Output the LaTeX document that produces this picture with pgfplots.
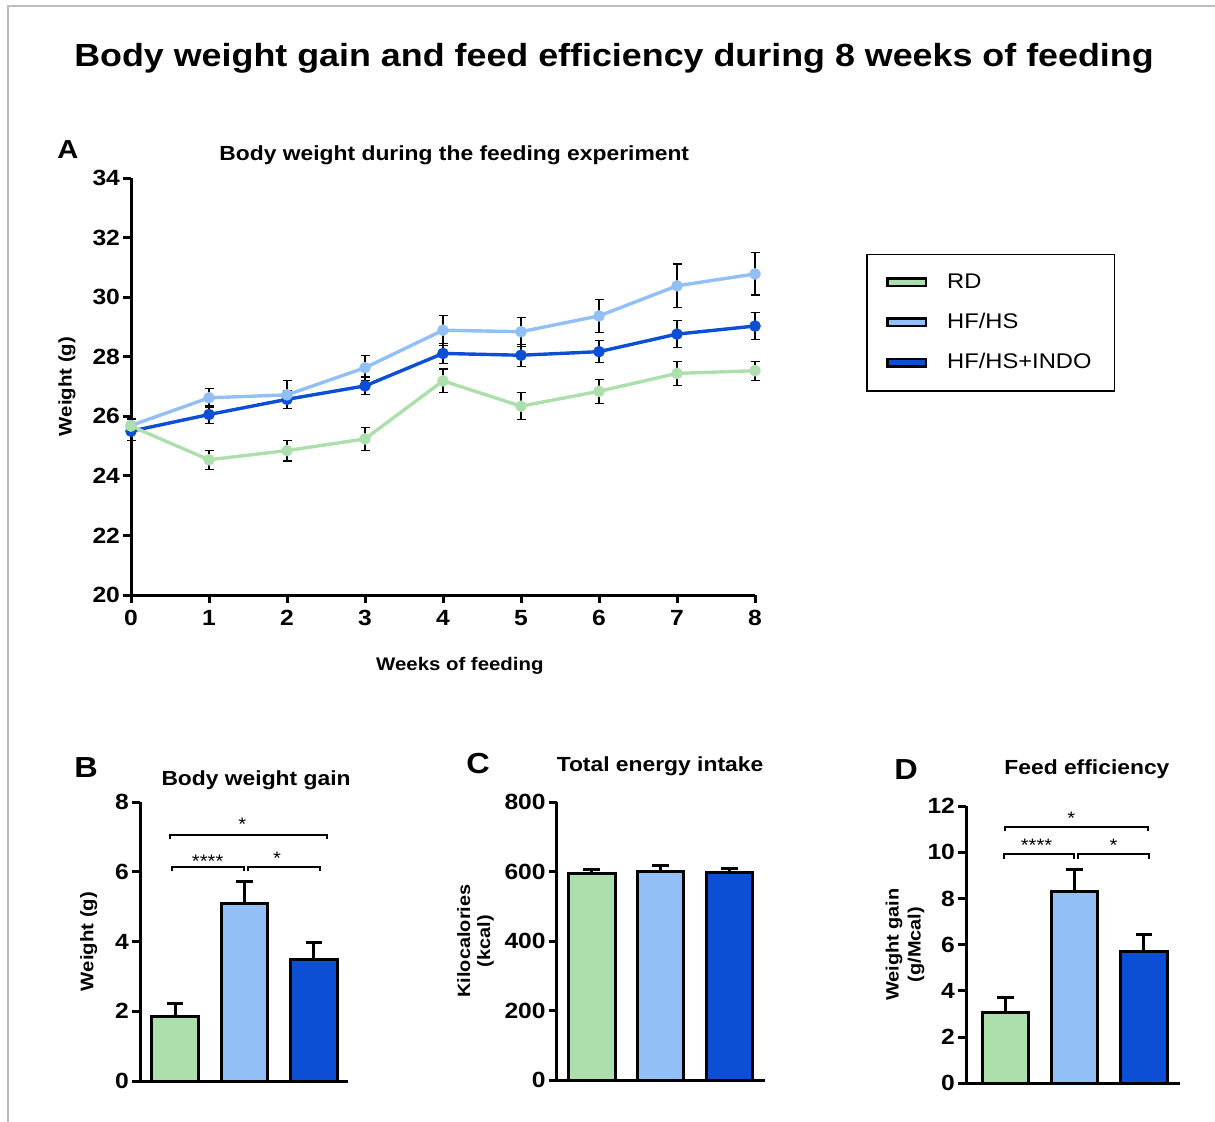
\documentclass[border=0pt]{standalone}
\usepackage{fontspec}
\setmainfont{Liberation Sans}[FakeStretch=1.12]
\usepackage{pgfplots}
\usepackage{pgfplotstable}
\pgfplotsset{compat=1.18}

\definecolor{rdgreen}{RGB}{173,223,173}
\definecolor{hflight}{RGB}{147,191,247}
\definecolor{indoblue}{RGB}{12,78,212}
\definecolor{framegray}{RGB}{190,190,190}

\newcommand{\fs}[2]{\fontsize{#1}{#2}\selectfont}

% weekly body weight: week, mean, SEM
\pgfplotstableread{
w  m      e
0  25.67  0.22
1  24.54  0.32
2  24.85  0.35
3  25.24  0.38
4  27.19  0.40
5  26.34  0.45
6  26.84  0.40
7  27.44  0.40
8  27.53  0.32
}\rdtab
\pgfplotstableread{
w  m      e
0  25.69  0.22
1  26.62  0.31
2  26.72  0.47
3  27.63  0.42
4  28.89  0.50
5  28.84  0.49
6  29.37  0.55
7  30.38  0.73
8  30.78  0.71
}\hftab
\pgfplotstableread{
w  m      e
0  25.50  0.30
1  26.06  0.29
2  26.57  0.30
3  27.02  0.30
4  28.11  0.34
5  28.05  0.37
6  28.17  0.37
7  28.76  0.45
8  29.03  0.45
}\indotab

\pgfplotsset{
  panel/.style={
    scale only axis, clip=false,
    axis x line*=bottom, axis y line*=left,
    axis line style={line width=1.5pt, black},
    tick style={line width=1.5pt, black},
    major tick length=4pt, tick align=outside,
    /pgf/number format/assume math mode=true,
    tick label style={font=\bfseries\fs{11}{13}},
    yticklabel style={xshift=2pt},
    % the default title style shifts up by 6pt; take that back
    title style={font=\bfseries\fs{10.2}{12}, inner sep=0pt, anchor=base, yshift=-6pt},
    label style={font=\bfseries\fs{9.1}{11}, inner sep=0pt},
  },
  barpanel/.style={
    panel, xtick=\empty, ymin=0,
  },
  gbar/.style={
    ybar, bar width=23.25pt, bar shift=0pt, draw=black, line width=1.5pt, fill=#1,
    error bars/y dir=plus, error bars/y explicit,
    error bars/error bar style={line width=1.5pt, black},
    error bars/error mark options={rotate=90, mark size=4.2pt, line width=1.5pt, black},
  },
  wline/.style={
    #1, line width=1.7pt, mark=*, mark size=2pt, mark options={fill=#1, draw=#1},
    error bars/y dir=both, error bars/y explicit,
    error bars/error bar style={line width=0.6pt, black},
    error bars/error mark options={rotate=90, mark size=2.25pt, line width=0.6pt, black},
  },
  boxlegend/.style={
    legend image code/.code={\draw[##1, draw=black, line width=1.2pt] (0.6pt,-1.9pt) rectangle (19.9pt,1.9pt);}
  },
}

\begin{document}
\begin{tikzpicture}
\path[use as bounding box] (0,0) rectangle (607.5pt,-560.5pt);
\draw[framegray, line width=1pt] (4pt,-562pt) -- (4pt,-3pt) -- (609pt,-3pt);

\node[anchor=base, font=\bfseries\fs{16}{19}] at (307pt,-33pt)
  {Body weight gain and feed efficiency during 8 weeks of feeding};

% panel letters
\node[anchor=base, font=\bfseries\fs{13}{15}] at (34pt,-79pt) {A};
\node[anchor=base, font=\bfseries\fs{14.5}{17}] at (43pt,-388.5pt) {B};
\node[anchor=base, font=\bfseries\fs{14.5}{17}] at (239pt,-386.5pt) {C};
\node[anchor=base, font=\bfseries\fs{14.5}{17}] at (453pt,-389.5pt) {D};

% ---- A: body weight over time
\begin{axis}[panel,
  at={(65.5pt,-297.5pt)}, anchor=south west,
  width=312pt, height=208.5pt,
  xmin=0, xmax=8, ymin=20, ymax=34,
  xtick={0,...,8}, ytick={20,22,...,34},
  title={Body weight during the feeding experiment},
  title style={at={(axis description cs:0.518,1.041)}},
  xlabel={Weeks of feeding},
  xlabel style={at={(axis description cs:0.527,-0.18)}, anchor=base},
  ylabel={Weight (g)},
  ylabel style={at={(axis description cs:-0.095,0.5)}, anchor=base},
  legend cell align=left,
  legend style={at={(axis description cs:1.1785,0.818)}, anchor=north west,
    draw=black, line width=0.75pt, font=\fs{10.6}{12},
    inner xsep=9.5pt, inner ysep=7.5pt, row sep=7pt,
    /tikz/every odd column/.append style={column sep=8pt}},
]
\addplot[forget plot, wline=indoblue] table[x=w, y=m, y error=e] {\indotab};
\addplot[forget plot, wline=hflight] table[x=w, y=m, y error=e] {\hftab};
\addplot[forget plot, wline=rdgreen] table[x=w, y=m, y error=e] {\rdtab};
\addlegendimage{boxlegend, fill=rdgreen}
\addlegendentry{RD}
\addlegendimage{boxlegend, fill=hflight}
\addlegendentry{HF/HS}
\addlegendimage{boxlegend, fill=indoblue}
\addlegendentry{HF/HS+INDO}
\end{axis}

% ---- B: body weight gain
\begin{axis}[barpanel,
  at={(70pt,-540.5pt)}, anchor=south west,
  width=104pt, height=139.5pt,
  xmin=-0.504, xmax=2.49, ymax=8, ytick={0,2,...,8},
  title={Body weight gain},
  title style={at={(axis description cs:0.558,1.061)}},
  ylabel={Weight (g)},
  ylabel style={at={(axis description cs:-0.2245,0.5)}, anchor=base},
]
\addplot[gbar=rdgreen] coordinates {(0,1.84) +- (0,0.38)};
\addplot[gbar=hflight] coordinates {(1,5.10) +- (0,0.62)};
\addplot[gbar=indoblue] coordinates {(2,3.49) +- (0,0.49)};
\draw[line width=1pt] (axis cs:-0.047,6.01) -- (axis cs:-0.047,6.13) -- (axis cs:0.99,6.13) -- (axis cs:0.99,6.01);
\draw[line width=1pt] (axis cs:1.055,6.01) -- (axis cs:1.055,6.13) -- (axis cs:2.086,6.13) -- (axis cs:2.086,6.01);
\draw[line width=1pt] (axis cs:-0.07,6.94) -- (axis cs:-0.07,7.06) -- (axis cs:2.19,7.06) -- (axis cs:2.19,6.94);
\node[anchor=base, inner sep=0pt, font=\fs{9}{10}] at (axis cs:0.47,6.11) {****};
\node[anchor=base, inner sep=0pt, font=\fs{9}{10}] at (axis cs:1.47,6.22) {*};
\node[anchor=base, inner sep=0pt, font=\fs{9}{10}] at (axis cs:0.97,7.18) {*};
\end{axis}

% ---- C: total energy intake
\begin{axis}[barpanel,
  at={(278.35pt,-540pt)}, anchor=south west,
  width=104.15pt, height=139pt,
  xmin=-0.51, xmax=2.52, ymax=800, ytick={0,200,...,800},
  title={Total energy intake},
  title style={at={(axis description cs:0.496,1.109)}},
  ylabel={Kilocalories\\(kcal)},
  ylabel style={at={(axis description cs:-0.39,0.5)}, anchor=center, align=center, font=\bfseries\fs{8.9}{10}},
]
\addplot[gbar=rdgreen] coordinates {(0,595) +- (0,10)};
\addplot[gbar=hflight] coordinates {(1,600) +- (0,17)};
\addplot[gbar=indoblue] coordinates {(2,596) +- (0,13)};
\end{axis}

% ---- D: feed efficiency
\begin{axis}[barpanel,
  at={(483pt,-541.65pt)}, anchor=south west,
  width=107pt, height=138.65pt,
  xmin=-0.567, xmax=2.52, ymax=12, ytick={0,2,...,12},
  title={Feed efficiency},
  title style={at={(axis description cs:0.565,1.112)}},
  ylabel={Weight gain\\(g/Mcal)},
  ylabel style={at={(axis description cs:-0.285,0.5)}, anchor=center, align=center, font=\bfseries\fs{8.9}{11}},
]
\addplot[gbar=rdgreen] coordinates {(0,3.07) +- (0,0.64)};
\addplot[gbar=hflight] coordinates {(1,8.29) +- (0,0.97)};
\addplot[gbar=indoblue] coordinates {(2,5.70) +- (0,0.72)};
\draw[line width=1pt] (axis cs:-0.02,9.72) -- (axis cs:-0.02,9.92) -- (axis cs:0.996,9.92) -- (axis cs:0.996,9.72);
\draw[line width=1pt] (axis cs:1.045,9.72) -- (axis cs:1.045,9.92) -- (axis cs:2.07,9.92) -- (axis cs:2.07,9.72);
\draw[line width=1pt] (axis cs:0,10.9) -- (axis cs:0,11.08) -- (axis cs:2.065,11.08) -- (axis cs:2.065,10.9);
\node[anchor=base, inner sep=0pt, font=\fs{9}{10}] at (axis cs:0.45,10.02) {****};
\node[anchor=base, inner sep=0pt, font=\fs{9}{10}] at (axis cs:1.56,10.02) {*};
\node[anchor=base, inner sep=0pt, font=\fs{9}{10}] at (axis cs:0.95,11.22) {*};
\end{axis}
\end{tikzpicture}
\end{document}
